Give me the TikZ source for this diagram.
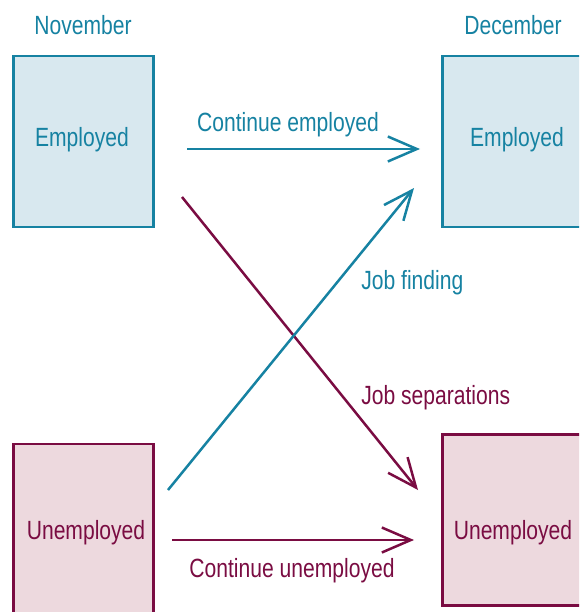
\documentclass[tikz,border=0pt]{standalone}
\usepackage{fontspec}
\setmainfont{Liberation Sans}[FakeStretch=0.8]
\usetikzlibrary{arrows.meta,positioning}
\definecolor{empteal}{RGB}{22,130,162}
\definecolor{unempred}{RGB}{122,12,66}
\definecolor{empfill}{RGB}{216,232,239}
\definecolor{unempfill}{RGB}{237,217,222}

\begin{document}
\begin{tikzpicture}[
    x=0.02cm, y=-0.02cm,
    >={Straight Barb[length=0.58cm,width=0.5cm]},
    statebox/.style={draw, line width=0.05cm, minimum width=2.81cm, inner sep=0pt},
    empbox/.style={statebox, draw=empteal, fill=empfill},
    unempbox/.style={statebox, draw=unempred, fill=unempfill},
    empflow/.style={->, line width=0.05cm, color=empteal},
    unempflow/.style={->, line width=0.05cm, color=unempred},
    labeltext/.style={font=\fontsize{15}{18}\selectfont, inner sep=0pt, anchor=base},
  ]

  \path[use as bounding box, clip] (0,0) rectangle (579,612);

  % === Month headings ===
  \node[labeltext, text=empteal] (nov) at (83,34) {November};
  \node[labeltext, text=empteal] (dec) at (513,34) {December};

  % === State boxes ===
  \node[empbox, minimum height=3.42cm] (empnov) at (83.5,141.5) {};
  \node[empbox, minimum height=3.42cm] (empdec) at (512.5,141.5) {};
  \node[unempbox, minimum height=4.12cm] (unempnov) at (83.5,547) {};
  \node[unempbox, minimum height=3.43cm] (unempdec) at (512.5,520) {};

  \node[labeltext, text=empteal] (empnovtxt) at (82,146) {Employed};
  \node[labeltext, text=empteal] (empdectxt) at (517,146) {Employed};
  \node[labeltext, text=unempred] (unempnovtxt) at (86,539) {Unemployed};
  \node[labeltext, text=unempred] (unempdectxt) at (513,539) {Unemployed};

  % === Flow end points ===
  \coordinate (stayemp-a) at (187,149);
  \coordinate (stayemp-b) at (420,149);
  \coordinate (sep-a) at (182,197);
  \coordinate (sep-b) at (418,490);
  \coordinate (find-a) at (168,490);
  \coordinate (find-b) at (414,188);
  \coordinate (stayunemp-a) at (172,540);
  \coordinate (stayunemp-b) at (414,540);

  % === Flows ===
  \draw[unempflow] (sep-a) -- (sep-b);
  \draw[empflow] (find-a) -- (find-b);
  \draw[empflow] (stayemp-a) -- (stayemp-b);
  \draw[unempflow] (stayunemp-a) -- (stayunemp-b);

  % === Flow labels ===
  \node[labeltext, text=empteal] (stayemplbl) at (288,131) {Continue employed};
  \node[labeltext, text=empteal, anchor=base west] (findlbl) at (361,289) {Job finding};
  \node[labeltext, text=unempred, anchor=base west] (seplbl) at (361,404) {Job separations};
  \node[labeltext, text=unempred] (stayunemplbl) at (292,577) {Continue unemployed};

\end{tikzpicture}
\end{document}
